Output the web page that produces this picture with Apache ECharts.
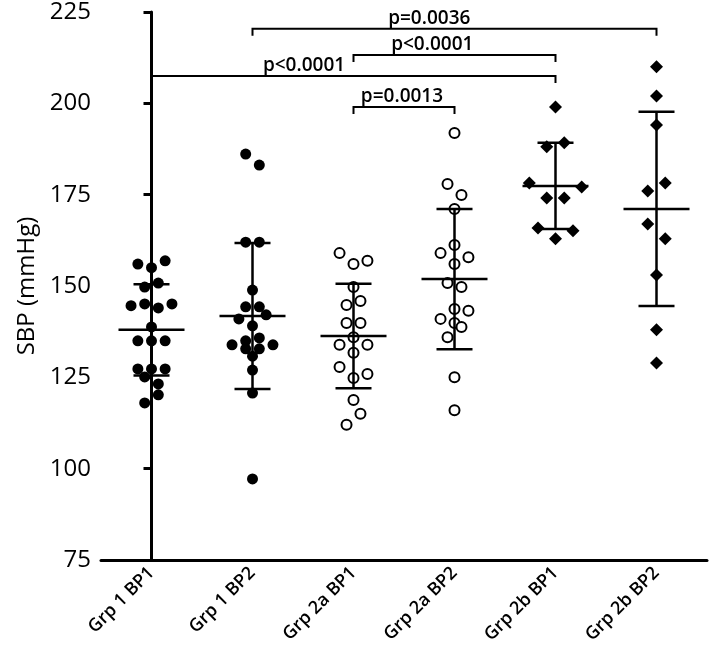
<!DOCTYPE html>
<html>
<head>
<meta charset="utf-8">
<script src="https://cdn.jsdelivr.net/npm/echarts@6/dist/echarts.min.js"></script>
<style>
  html, body { margin: 0; padding: 0; background: #fff; }
  #main { width: 709px; height: 661px; }
</style>
</head>
<body>
<div id="main"></div>
<script>
// categories on the x axis
const categories = ['Grp 1 BP1', 'Grp 1 BP2', 'Grp 2a BP1', 'Grp 2a BP2', 'Grp 2b BP1', 'Grp 2b BP2'];
const yTicks = [75, 100, 125, 150, 175, 200, 225];

// SBP values per group; each inner list = points sharing one level (left to right)
const grp1bp1 = [[156.0, 155.0, 156.9], [149.7, 150.8], [144.6, 145.1, 144.0, 145.1], [138.8],
  [135.0, 135.0, 135.0], [127.3, 127.3, 127.3], [125.1, 123.2], [118.0, 120.2]];
const grp1bp2 = [[186.1, 183.1], [162.0, 162.0], [148.9], [144.3, 144.3], [141.0, 139.1, 142.1],
  [135.0, 135.8], [133.9, 132.8, 132.8, 133.9], [130.8], [127.0], [120.7], [97.2]];
const grp2abp1 = [[159.0, 156.0, 156.9], [149.7], [144.8, 145.9], [139.9, 139.9], [136.0],
  [133.9, 131.7, 133.9], [127.8, 124.8, 125.9], [118.8], [112.0, 115.0]];
const grp2abp2 = [[191.9], [177.9, 174.9], [171.1], [159.0, 161.2, 157.9], [156.0], [150.8, 149.7],
  [141.0, 143.7, 143.2], [139.9], [136.0, 138.8], [125.0], [116.0]];
const grp2bbp1 = [[199.0], [188.1, 189.2], [178.2, 174.1, 174.1, 177.1], [165.9, 162.9, 165.1]];
const grp2bbp2 = [[210.0], [202.0], [194.1], [176.0, 178.2], [167.0, 162.9], [153.0], [138.0], [128.9]];

// mean and SD per group
const means = [138.0, 141.8, 136.3, 151.9, 177.4, 171.1];
const sds = [12.5, 20.0, 14.3, 19.2, 11.8, 26.6];

// significance brackets: from, to, level, label, label centre (category units)
const comparisons = [
  [1, 5, 220.4, 'p=0.0036', 2.75],
  [2, 4, 213.2, 'p<0.0001', 2.78],
  [0, 4, 207.5, 'p<0.0001', 1.51],
  [2, 3, 199.0, 'p=0.0013', 2.48]
];

const groups = [grp1bp1, grp1bp2, grp2abp1, grp2abp2, grp2bbp1, grp2bbp2];
const FONT = '"Open Sans", "Noto Sans", sans-serif';

// spread points of a row sideways, centred on the category
function layout(rows, gi, step) {
  const pts = [];
  rows.forEach(function (row) {
    const k = row.length;
    row.forEach(function (v, i) {
      pts.push([gi + (i - (k - 1) / 2) * step, v]);
    });
  });
  return pts;
}

const filled = { color: '#000', opacity: 1 };
const hollow = { color: '#fff', borderColor: '#000', borderWidth: 2, opacity: 1 };
const symbolStyles = [
  { symbol: 'circle', symbolSize: 11, itemStyle: filled, step: 0.135 },
  { symbol: 'circle', symbolSize: 11, itemStyle: filled, step: 0.135 },
  { symbol: 'circle', symbolSize: 10, itemStyle: hollow, step: 0.138 },
  { symbol: 'circle', symbolSize: 10, itemStyle: hollow, step: 0.138 },
  { symbol: 'diamond', symbolSize: 13, itemStyle: filled, step: 0.173 },
  { symbol: 'diamond', symbolSize: 13, itemStyle: filled, step: 0.173 }
];

const scatterSeries = groups.map(function (rows, gi) {
  const st = symbolStyles[gi];
  return {
    type: 'scatter',
    name: categories[gi],
    xAxisIndex: 1,
    symbol: st.symbol,
    symbolSize: st.symbolSize,
    itemStyle: st.itemStyle,
    z: 2,
    data: layout(rows, gi, st.step)
  };
});

const errorSeries = {
  type: 'custom',
  xAxisIndex: 1,
  z: 5,
  data: means.map(function (m, i) { return [i, m, sds[i]]; }),
  renderItem: function (params, api) {
    const x = api.value(0), m = api.value(1), s = api.value(2);
    const c = api.coord([x, m]);
    const t = api.coord([x, m + s]);
    const b = api.coord([x, m - s]);
    const st = { stroke: '#000', lineWidth: 2.5 };
    return {
      type: 'group',
      children: [
        { type: 'line', shape: { x1: t[0], y1: t[1], x2: b[0], y2: b[1] }, style: st },
        { type: 'line', shape: { x1: c[0] - 33, y1: c[1], x2: c[0] + 33, y2: c[1] }, style: st },
        { type: 'line', shape: { x1: t[0] - 18, y1: t[1], x2: t[0] + 18, y2: t[1] }, style: st },
        { type: 'line', shape: { x1: b[0] - 18, y1: b[1], x2: b[0] + 18, y2: b[1] }, style: st }
      ]
    };
  }
};

const bracketSeries = {
  type: 'custom',
  xAxisIndex: 1,
  z: 6,
  data: comparisons.map(function (c) { return [c[0], c[1], c[2], c[4]]; }),
  renderItem: function (params, api) {
    const p1 = api.coord([api.value(0), api.value(2)]);
    const p2 = api.coord([api.value(1), api.value(2)]);
    const lp = api.coord([api.value(3), api.value(2)]);
    const drop = 7;
    return {
      type: 'group',
      children: [
        {
          type: 'polyline',
          shape: { points: [[p1[0], p1[1] + drop], [p1[0], p1[1]], [p2[0], p2[1]], [p2[0], p2[1] + drop]] },
          style: { stroke: '#000', lineWidth: 2, fill: 'none' }
        },
        {
          type: 'text',
          style: {
            x: lp[0], y: p1[1] - 1,
            text: comparisons[params.dataIndex][3],
            fill: '#000',
            fontSize: 19,
            fontWeight: 600,
            fontFamily: FONT,
            align: 'center',
            verticalAlign: 'bottom'
          }
        }
      ]
    };
  }
};

const chart = echarts.init(document.getElementById('main'));
chart.setOption({
  backgroundColor: '#fff',
  animation: false,
  grid: { left: 101, right: 2, top: 12, bottom: 101, containLabel: false },
  xAxis: [
    {
      type: 'category',
      data: categories,
      axisLine: { lineStyle: { color: '#000', width: 3 } },
      axisTick: { alignWithLabel: true, length: 7, lineStyle: { color: '#000', width: 3 } },
      axisLabel: {
        rotate: 45, margin: 10, color: '#000',
        fontSize: 18, fontWeight: 600, fontFamily: FONT
      },
      splitLine: { show: false }
    },
    { type: 'value', min: -0.5, max: 5.5, show: false }
  ],
  yAxis: {
    type: 'value',
    min: yTicks[0],
    max: yTicks[yTicks.length - 1],
    interval: 25,
    name: 'SBP (mmHg)',
    nameLocation: 'middle',
    nameGap: 49,
    nameTextStyle: { color: '#000', fontSize: 24, fontFamily: FONT },
    axisLine: { show: true, lineStyle: { color: '#000', width: 3 } },
    axisTick: { show: true, length: 8, lineStyle: { color: '#000', width: 3 } },
    axisLabel: { color: '#000', fontSize: 24, fontFamily: FONT, margin: 10 },
    splitLine: { show: false }
  },
  series: scatterSeries.concat([errorSeries, bracketSeries])
});
</script>
</body>
</html>
